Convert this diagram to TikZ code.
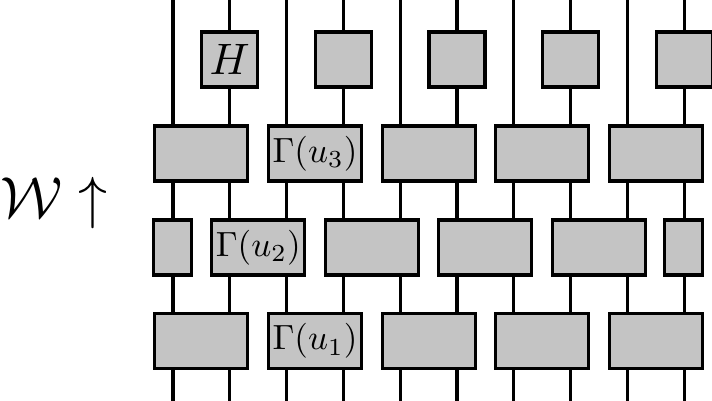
\documentclass[tikz,border=0pt]{standalone}
\usepackage{graphicx}
\definecolor{boxgray}{RGB}{196,196,196}
\tikzset{
  wire/.style={line width=3.1pt},
  gbox/.style={draw, line width=3.1pt, fill=boxgray, inner sep=0pt, minimum height=55pt},
  hbox/.style={gbox, minimum width=56pt},
  wbox/.style={gbox, minimum width=93pt},
  nbox/.style={gbox, minimum width=38pt},
}
\newcommand{\gtxt}[1]{\scalebox{3.5}{$#1$}}
\begin{document}
\begin{tikzpicture}[x=1pt,y=-1pt]
\useasboundingbox (0,0) rectangle (712,400);
% wires
\foreach \i in {1,...,10} {
  \coordinate (t\i) at ({173+56.8*(\i-1)},-5);
  \coordinate (b\i) at ({173+56.8*(\i-1)},405);
  \draw[wire] (t\i) -- (b\i);
}
% top row: single-site boxes
\node[hbox] (h1) at (229.8,59.5) {\scalebox{4.4}{$H$}};
\node[hbox] (h2) at (343.4,59.5) {};
\node[hbox] (h3) at (457.0,59.5) {};
\node[hbox] (h4) at (570.6,59.5) {};
\node[hbox] (h5) at (684.2,59.5) {};
% row 3
\node[wbox] (c1) at (201.4,153.5) {};
\node[wbox] (c2) at (315.0,153.5) {\gtxt{\Gamma(u_3)}};
\node[wbox] (c3) at (428.6,153.5) {};
\node[wbox] (c4) at (542.2,153.5) {};
\node[wbox] (c5) at (655.8,153.5) {};
% row 2
\node[nbox] (m0) at (172.5,247.5) {};
\node[wbox] (m1) at (258.2,247.5) {\gtxt{\Gamma(u_2)}};
\node[wbox] (m2) at (371.8,247.5) {};
\node[wbox] (m3) at (485.4,247.5) {};
\node[wbox] (m4) at (599.0,247.5) {};
\node[nbox] (m5) at (683.2,247.5) {};
% row 1
\node[wbox] (d1) at (201.4,341) {};
\node[wbox] (d2) at (315.0,341) {\gtxt{\Gamma(u_1)}};
\node[wbox] (d3) at (428.6,341) {};
\node[wbox] (d4) at (542.2,341) {};
\node[wbox] (d5) at (655.8,341) {};
% label
\node[anchor=base west, inner sep=0pt] (lab) at (0,217) {\scalebox{5.8}{$\mathcal{W}\uparrow$}};
\end{tikzpicture}
\end{document}
